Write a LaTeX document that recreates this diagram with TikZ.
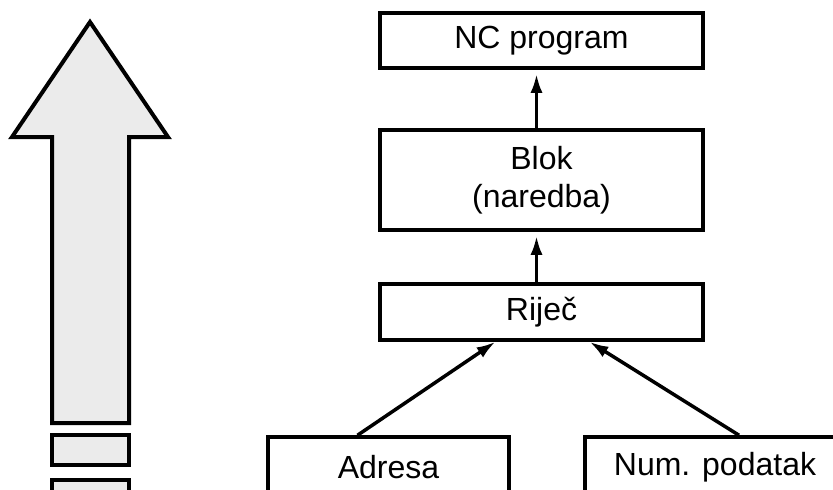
\documentclass[tikz,border=0pt]{standalone}
\usepackage{fontspec}
\setmainfont{Liberation Sans}
\usepackage{tikz}
\usetikzlibrary{
  positioning,
  arrows.meta,
  }

\begin{document}
\begin{tikzpicture}[x=1pt, y=-1pt,
    every node/.style={draw, line width=3.5pt, rectangle, minimum width=323pt, inner sep=0pt, font=\fontsize{32}{38}\selectfont},
    veza/.style={line width=3.5pt, shorten >=4pt, -{Latex[length=19pt, width=12pt]}},
    strelica/.style={line width=4pt, fill=black!8, line join=miter}]
                \clip (0,0) rectangle (833,490);
                \draw[strelica] (90,22) -- (168,137) -- (129,137) -- (129,423)
                    -- (52,423) -- (52,137) -- (12,137) -- cycle;
                \draw[strelica] (52,435) rectangle (129,465);
                \draw[strelica] (52,480) rectangle (129,505);
                \node[minimum height=55pt] (nc) at (541.5,40.5) {NC program};
                \node[minimum height=100pt, align=center] (blok) at (541.5,180) {Blok\\(naredba)};
                \node[minimum height=56pt] (rijec) at (541.5,312) {Riječ};
                \node[minimum width=241pt, minimum height=60pt] (adresa) at (388.5,467) {Adresa};
                \node[minimum width=260pt, minimum height=60pt] (num) at (715,467) {Num. podatak};
                \draw[veza] ([xshift=-5pt]blok.north) -- ([xshift=-5pt]nc.south);
                \draw[veza] ([xshift=-5pt]rijec.north) -- ([xshift=-5pt]blok.south);
                \draw[veza, shorten >=0pt] ([xshift=-31pt]adresa.north) -- ([xshift=-46pt]rijec.south);
                \draw[veza, shorten >=0pt] ([xshift=24pt]num.north) -- ([xshift=48pt]rijec.south);
            \end{tikzpicture}
\end{document}
